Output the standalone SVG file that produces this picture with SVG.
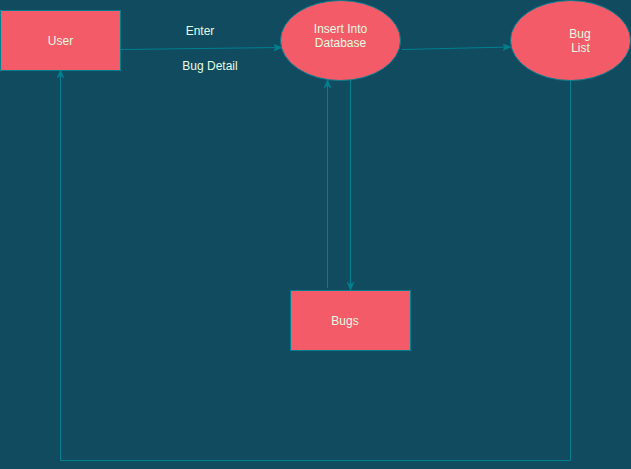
<svg xmlns="http://www.w3.org/2000/svg" width="631" height="469" viewBox="0 0 631 469">
<style>
.n{fill:#F45B69;stroke:#028090;stroke-width:1}
.t{font-family:"Liberation Sans",Arial,sans-serif;font-size:12px;fill:#E4FDE1;text-anchor:middle}
.c{fill:none;stroke:#028090;stroke-width:1}
</style>
<defs>
<marker id="ah" viewBox="0 0 10 10" refX="9" refY="5" markerWidth="8" markerHeight="8" markerUnits="userSpaceOnUse" orient="auto">
<path d="M0,1 L10,5 L0,9 L3,5 Z" fill="#028090" stroke="#028090" stroke-width="1"/>
</marker>
</defs>
<rect width="631" height="469" fill="#114B5F"/>
<g id="connectors">
<path class="c" d="M120.5,49.5 L281,47.5" marker-end="url(#ah)"/>
<path class="c" d="M402,49.5 L510,47" marker-end="url(#ah)"/>
<path class="c" d="M350.5,80 L350.5,289.5" marker-end="url(#ah)"/>
<path class="c" d="M327.5,288 L327.5,80.5" marker-end="url(#ah)"/>
<path class="c" d="M570.5,80 L570.5,460.5 L60.5,460.5 L60.5,70.5" marker-end="url(#ah)"/>
<text class="t" x="200" y="35">Enter</text>
<text class="t" x="210" y="70">Bug Detail</text>
</g>
<g id="user">
<rect class="n" x="0.5" y="10.5" width="120" height="60"/>
<text class="t" x="60.5" y="45">User</text>
</g>
<g id="insert">
<ellipse class="n" cx="340.5" cy="40.5" rx="60" ry="40"/>
<text class="t" x="340.5" y="33">Insert Into</text>
<text class="t" x="340.5" y="47">Database</text>
</g>
<g id="buglist">
<ellipse class="n" cx="570.5" cy="40.5" rx="60" ry="40"/>
<text class="t" x="580" y="38">Bug</text>
<text class="t" x="580.5" y="52">List</text>
</g>
<g id="bugs">
<rect class="n" x="290.5" y="290.5" width="120" height="60"/>
<text class="t" x="345" y="325">Bugs</text>
</g>
</svg>
